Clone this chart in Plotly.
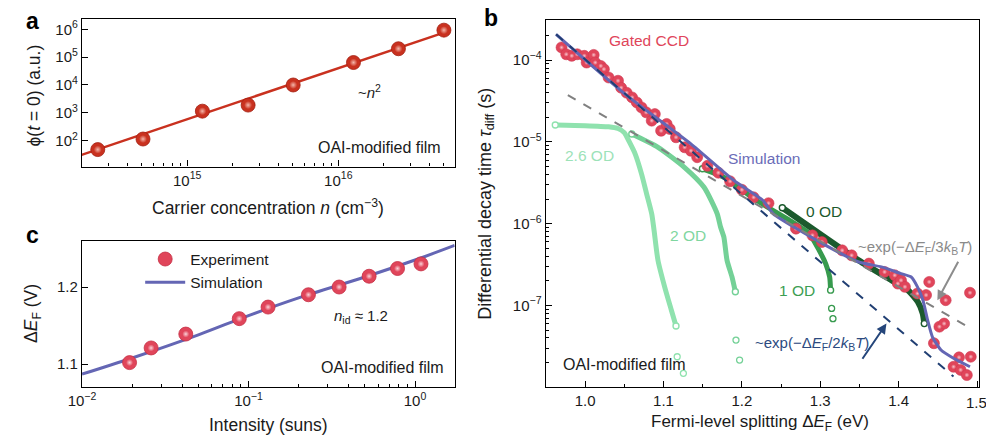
import plotly.graph_objects as go

W, H = 986, 436
def px(x): return x / W
def py(y): return 1 - y / H

FONT = "Liberation Sans, Arial, sans-serif"

# ---------------- Panel a data ----------------
carrier_n = [2.56e14, 5.1e14, 1.26e15, 2.53e15, 5.03e15, 1.26e16, 2.5e16, 5.0e16]
phi_t0 = [48, 115, 1150, 1900, 1.0e4, 6.4e4, 2.0e5, 9.3e5]
fit_a_x = [2.0e14, 5.0e16]
fit_a_y = [31, 7.6e5]

# ---------------- Panel c data ----------------
intensity = [0.0193, 0.026, 0.042, 0.088, 0.131, 0.229, 0.35, 0.53, 0.785, 1.086]
dEF_exp = [1.102, 1.121, 1.139, 1.159, 1.174, 1.190, 1.200, 1.214, 1.224, 1.230]
sim_c_x = [0.01, 0.02, 0.05, 0.1, 0.2, 0.5, 1.0, 1.73]
sim_c_y = [1.087, 1.108, 1.138, 1.163, 1.186, 1.213, 1.235, 1.254]

# ---------------- Panel b data ----------------
ccd_x = [0.970, 0.976, 0.983, 0.990, 0.999, 1.002, 1.011, 1.013, 1.020, 1.024,
         1.030, 1.042, 1.046, 1.053, 1.060, 1.066, 1.072, 1.078, 1.085, 1.089,
         1.097, 1.104, 1.108, 1.116, 1.127, 1.135, 1.143, 1.156, 1.17, 1.185,
         1.20, 1.215, 1.234, 1.269, 1.290, 1.302, 1.328, 1.340, 1.362, 1.382,
         1.395, 1.399, 1.403, 1.408, 1.424, 1.435, 1.439, 1.445, 1.452, 1.458,
         1.460, 1.470, 1.477, 1.479, 1.487, 1.491, 1.492]
ccd_y = [1.43e-4, 1.18e-4, 1.13e-4, 1.18e-4, 1.13e-4, 9.35e-5, 1.16e-4, 9.35e-5, 8.5e-5, 7.76e-5,
         6.14e-5, 5.6e-5, 4.6e-5, 4.0e-5, 3.5e-5, 3.04e-5, 2.64e-5, 2.30e-5, 1.82e-5, 2.19e-5,
         1.37e-5, 1.66e-5, 1.44e-5, 1.14e-5, 8.6e-6, 7.8e-6, 6.5e-6, 5.1e-6, 4.2e-6, 3.3e-6,
         2.6e-6, 2.1e-6, 1.78e-6, 8.7e-7, 7.2e-7, 5.97e-7, 4.72e-7, 4.1e-7, 3.25e-7, 2.57e-7,
         2.34e-7, 1.85e-7, 2.03e-7, 1.69e-7, 1.40e-7, 1.34e-7, 1.94e-7, 3.45e-8, 5.5e-8, 6.0e-8,
         1.16e-7, 1.78e-8, 2.32e-8, 1.63e-8, 1.41e-8, 1.43e-7, 2.36e-8]

sim_b_x = [0.963, 1.051, 1.135, 1.19, 1.227, 1.24, 1.303, 1.349, 1.378, 1.403,
           1.416, 1.424, 1.431, 1.437, 1.443, 1.454, 1.470, 1.491]
sim_b_y = [2.07e-4, 3.85e-5, 9.46e-6, 3.37e-6, 1.92e-6, 1.32e-6, 5.7e-7, 3.4e-7, 2.96e-7, 2.45e-7,
           2.23e-7, 1.69e-7, 1.16e-7, 6.6e-8, 4.14e-8, 2.85e-8, 2.26e-8, 1.78e-8]

od26_x = [0.962, 1.000, 1.030, 1.042, 1.050, 1.056, 1.064, 1.072, 1.0785, 1.085, 1.088, 1.093, 1.1015, 1.110, 1.116]
od26_y = [1.61e-5, 1.58e-5, 1.53e-5, 1.46e-5, 1.30e-5, 1.02e-5, 7.1e-6, 4.07e-6, 2.32e-6, 1.32e-6, 8.3e-7, 3.56e-7, 1.69e-7, 8.8e-8, 5.6e-8]
od26_iso_x = [1.1175, 1.1254]
od26_iso_y = [2.36e-8, 1.48e-8]

od2_x = [1.0596, 1.0931, 1.1267, 1.1518, 1.1686, 1.1728, 1.177, 1.1811, 1.1874, 1.1917]
od2_y = [1.25e-5, 8.6e-6, 4.9e-6, 2.79e-6, 1.32e-6, 9.1e-7, 6.9e-7, 3.56e-7, 2.23e-7, 1.47e-7]
od2_iso_x = [1.1925, 1.1971]
od2_iso_y = [3.77e-8, 2.15e-8]

od1_x = [1.1497, 1.177, 1.2189, 1.2609, 1.286, 1.2986, 1.3069, 1.312, 1.3132]
od1_y = [4.69e-6, 3.7e-6, 1.92e-6, 1.10e-6, 7.55e-7, 4.72e-7, 3.25e-7, 2.23e-7, 1.54e-7]
od1_iso_x = [1.3145, 1.3162]
od1_iso_y = [9.2e-8, 6.9e-8]

od0_x = [1.2516, 1.349, 1.391, 1.4118, 1.4244, 1.4307, 1.4327]
od0_y = [1.57e-6, 3.56e-7, 2.03e-7, 1.54e-7, 1.11e-7, 7.98e-8, 6.0e-8]

exp3_x = [0.978, 1.4915]
exp3_y = [3.74e-5, 5.25e-8]
exp2_x = [0.963, 1.470]
exp2_y = [2.07e-4, 1.35e-8]

# tick labels
a_xticks = [1e15, 1e16]
a_xtext = ["10<sup>15</sup>", "10<sup>16</sup>"]
a_yticks = [1e2, 1e3, 1e4, 1e5, 1e6]
a_ytext = ["10<sup>2</sup>", "10<sup>3</sup>", "10<sup>4</sup>", "10<sup>5</sup>", "10<sup>6</sup>"]
c_xticks = [0.01, 0.1, 1]
c_xtext = ["10<sup>−2</sup>", "10<sup>−1</sup>", "10<sup>0</sup>"]
c_yticks = [1.1, 1.2]
c_ytext = ["1.1", "1.2"]
b_xticks = [1.0, 1.1, 1.2, 1.3, 1.4]
b_xtext = ["1.0", "1.1", "1.2", "1.3", "1.4"]
b_xlast = "1.5"
b_yticks = [1e-8, 1e-7, 1e-6, 1e-5, 1e-4]
b_ytext = ["10<sup>−8</sup>", "10<sup>−7</sup>", "10<sup>−6</sup>", "10<sup>−5</sup>", "10<sup>−4</sup>"]

def minor_log(e0, e1):
    return [k * 10.0 ** e for e in range(e0, e1) for k in range(2, 10)]

RED_A = "#c9311f"
RED = "#e0455a"
SIM = "#6466b4"
NAVY = "#213f73"
GRAY = "#808080"
C26 = "#8fe2ae"
C2 = "#74d197"
C1 = "#379a4e"
C0 = "#1b5a2d"

fig = go.Figure()

# ---- panel a ----
fig.add_trace(go.Scatter(x=fit_a_x, y=fit_a_y, mode="lines", line=dict(color=RED_A, width=2.5),
                         xaxis="x", yaxis="y", showlegend=False))
fig.add_trace(go.Scatter(x=carrier_n, y=phi_t0, mode="markers",
                         marker=dict(size=14, color=RED_A, line=dict(color="#a21f12", width=0.8)),
                         xaxis="x", yaxis="y", showlegend=False))
fig.add_trace(go.Scatter(x=carrier_n, y=phi_t0, mode="markers",
                         marker=dict(size=8, color=RED_A, gradient=dict(type="radial", color="#f4b7ab")),
                         xaxis="x", yaxis="y", showlegend=False, hoverinfo="skip"))

# ---- panel b ----
od_sets = [(od26_x, od26_y, C26, 5), (od2_x, od2_y, C2, 5), (od1_x, od1_y, C1, 5), (od0_x, od0_y, C0, 6)]
for xs, ys, col, w in od_sets:
    fig.add_trace(go.Scatter(x=xs, y=ys, mode="lines",
                             line=dict(color=col, width=w, shape="spline", smoothing=0.6),
                             xaxis="x2", yaxis="y2", showlegend=False))
for xs, ys, col, w in od_sets:
    fig.add_trace(go.Scatter(x=[xs[0], xs[-1]], y=[ys[0], ys[-1]], mode="markers",
                             marker=dict(symbol="circle", size=6, color="white", line=dict(color=col, width=1.4)),
                             xaxis="x2", yaxis="y2", showlegend=False, hoverinfo="skip"))
for xs, ys, col in [(od26_iso_x, od26_iso_y, C26), (od2_iso_x, od2_iso_y, C2), (od1_iso_x, od1_iso_y, C1)]:
    fig.add_trace(go.Scatter(x=xs, y=ys, mode="markers",
                             marker=dict(symbol="circle-open", size=6, color=col, line=dict(width=1.3)),
                             xaxis="x2", yaxis="y2", showlegend=False))
fig.add_trace(go.Scatter(x=ccd_x, y=ccd_y, mode="markers",
                         marker=dict(size=11, color=RED, line=dict(color="#cf3850", width=0.6)),
                         xaxis="x2", yaxis="y2", showlegend=False))
fig.add_trace(go.Scatter(x=ccd_x, y=ccd_y, mode="markers",
                         marker=dict(size=5, color=RED, gradient=dict(type="radial", color="#f8c4cc")),
                         xaxis="x2", yaxis="y2", showlegend=False, hoverinfo="skip"))
fig.add_trace(go.Scatter(x=sim_b_x, y=sim_b_y, mode="lines",
                         line=dict(color=SIM, width=3, shape="spline", smoothing=0.5),
                         xaxis="x2", yaxis="y2", showlegend=False))
fig.add_trace(go.Scatter(x=exp3_x, y=exp3_y, mode="lines", line=dict(color=GRAY, width=2, dash="dash"),
                         xaxis="x2", yaxis="y2", showlegend=False))
fig.add_trace(go.Scatter(x=exp2_x, y=exp2_y, mode="lines", line=dict(color=NAVY, width=2, dash="dash"),
                         xaxis="x2", yaxis="y2", showlegend=False))

# ---- panel c ----
fig.add_trace(go.Scatter(x=sim_c_x, y=sim_c_y, mode="lines", line=dict(color=SIM, width=3, shape="spline"),
                         xaxis="x3", yaxis="y3", name="Simulation", legendrank=2))
fig.add_trace(go.Scatter(x=intensity, y=dEF_exp, mode="markers",
                         marker=dict(size=14, color=RED, line=dict(color="#c52e44", width=0.8)),
                         xaxis="x3", yaxis="y3", name="Experiment", legendrank=1))
fig.add_trace(go.Scatter(x=intensity, y=dEF_exp, mode="markers",
                         marker=dict(size=7, color=RED, gradient=dict(type="radial", color="#fbd3d9")),
                         xaxis="x3", yaxis="y3", showlegend=False, hoverinfo="skip"))

axis_common = dict(showline=True, linecolor="black", linewidth=1.3, mirror=True,
                   ticks="inside", ticklen=6, tickwidth=1.2, tickcolor="black",
                   showgrid=False, zeroline=False,
                   tickfont=dict(size=15, color="#1a1a1a", family=FONT))
minor_common = dict(ticks="inside", ticklen=3, tickwidth=1, tickcolor="black", showgrid=False)

fig.update_layout(
    width=W, height=H, margin=dict(l=0, r=0, t=0, b=0),
    paper_bgcolor="white", plot_bgcolor="white",
    font=dict(family=FONT, size=15, color="#1a1a1a"),
    xaxis=dict(axis_common, type="log", domain=[px(69), px(447)], range=[14.304, 16.77],
               anchor="y", tickmode="array", tickvals=a_xticks, ticktext=a_xtext,
               minor=dict(minor_common, tickmode="array", tickvals=minor_log(14, 17))),
    yaxis=dict(axis_common, type="log", domain=[py(166), py(18)], range=[1.07, 6.37],
               anchor="x", tickmode="array", tickvals=a_yticks, ticktext=a_ytext),
    xaxis2=dict(axis_common, domain=[px(539.3), px(979.3)], range=[0.9497, 1.503],
                anchor="y2", tickmode="array", tickvals=b_xticks + [1.5], ticktext=b_xtext + [""],
                minor=dict(minor_common, tickmode="array", tickvals=[0.95, 1.05, 1.15, 1.25, 1.35, 1.45])),
    yaxis2=dict(axis_common, type="log", domain=[py(386.7), py(19.3)], range=[-7.995, -3.512],
                anchor="x2", tickmode="array", tickvals=b_yticks, ticktext=b_ytext,
                minor=dict(minor_common, tickmode="array", tickvals=minor_log(-8, -3))),
    xaxis3=dict(axis_common, type="log", domain=[px(69), px(447)], range=[-2, 0.238],
                anchor="y3", tickmode="array", tickvals=c_xticks, ticktext=c_xtext,
                minor=dict(minor_common, tickmode="array", tickvals=minor_log(-2, 1))),
    yaxis3=dict(axis_common, domain=[py(386.7), py(240.7)], range=[1.0706, 1.2595],
                anchor="x3", tickmode="array", tickvals=c_yticks, ticktext=c_ytext),
    legend=dict(x=px(128), y=py(242), xanchor="left", yanchor="top", bgcolor="rgba(0,0,0,0)",
                font=dict(size=15.5, family=FONT, color="#1a1a1a"), itemwidth=40, tracegroupgap=0),
)

def ann(text, x, y, size=16, color="#1a1a1a", angle=0, **kw):
    fig.add_annotation(text=text, x=px(x), y=py(y), xref="paper", yref="paper",
                       showarrow=False, textangle=angle, xanchor="center", yanchor="middle",
                       font=dict(size=size, color=color, family=FONT), **kw)

# panel labels
ann("<b>a</b>", 19, 20, size=23, color="black")
ann("<b>c</b>", 19, 235, size=23, color="black")
ann("<b>b</b>", 484, 17, size=23, color="black")

# last x tick label of panel b (sits at the page edge)
ann(b_xlast, 976, 402, size=15)

# axis titles
ann("ϕ(<i>t</i> = 0) (a.u.)", 20, 95, size=17.5, angle=-90)
ann("Carrier concentration <i>n</i> (cm<sup>−3</sup>)", 258, 206, size=17.5)
ann("Δ<i>E</i><sub>F</sub> (V)", 19, 313, size=17.5, angle=-90)
ann("Intensity (suns)", 258, 425, size=17.5)
ann("Differential decay time <i>τ</i><sub>diff</sub> (s)", 479, 203, size=18, angle=-90)
ann("Fermi-level splitting Δ<i>E</i><sub>F</sub> (eV)", 757, 423, size=17)

# panel a/c inner text
ann("~<i>n</i><sup>2</sup>", 361, 91, size=15)
ann("OAI-modified film", 371, 147, size=16)
ann("<i>n</i><sub>id</sub> ≈ 1.2", 352, 316, size=15)
ann("OAI-modified film", 374, 367, size=16)

# panel b inner text
ann("Gated CCD", 644, 40, size=15.5, color="#e0455a")
ann("Simulation", 761, 158, size=15.5, color="#6a6cb8")
ann("2.6 OD", 584, 155, size=15.5, color="#9ce2b8")
ann("2 OD", 684, 235, size=15.5, color="#7fd6a0")
ann("1 OD", 794, 290, size=15.5, color="#3c9e52")
ann("0 OD", 822, 211, size=15.5, color="#1b5a2d")
ann("~exp(−Δ<i>E</i><sub>F</sub>/3<i>k</i><sub>B</sub><i>T</i>)", 914, 247, size=15, color="#8a8a8a")
ann("~exp(−Δ<i>E</i><sub>F</sub>/2<i>k</i><sub>B</sub><i>T</i>)", 809, 343, size=15, color="#2b4a80")
ann("OAI-modified film", 619, 364, size=16)

# arrows
fig.add_annotation(x=px(936.7), y=py(300), xref="paper", yref="paper", text="", showarrow=True,
                   ax=21.6, ay=-40, arrowhead=2, arrowsize=1, arrowwidth=2, arrowcolor="#8c8c8c")
fig.add_annotation(x=px(885), y=py(323.3), xref="paper", yref="paper", text="", showarrow=True,
                   ax=-25, ay=36.7, arrowhead=2, arrowsize=1, arrowwidth=2, arrowcolor="#24457a")

fig.write_html("out.html")
